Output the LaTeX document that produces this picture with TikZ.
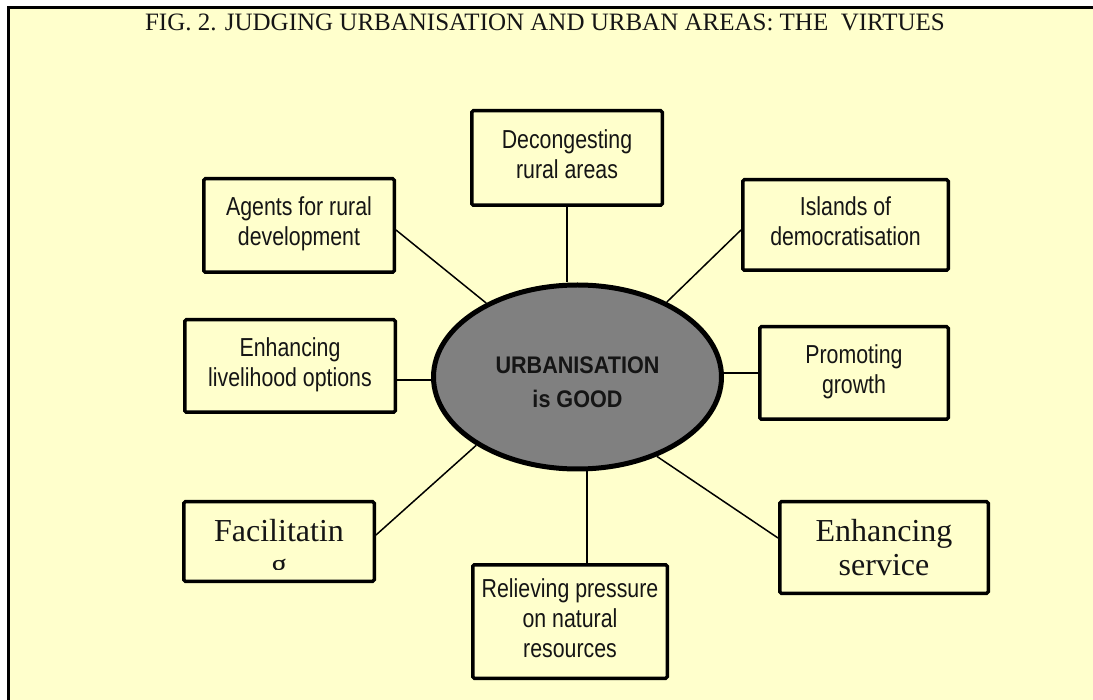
\documentclass[tikz,border=0pt]{standalone}
\usepackage{fontspec}
\setmainfont{Liberation Serif}
\newfontfamily\boxfont[FakeStretch=0.82]{Liberation Sans}
\newfontfamily\ellfont[FakeStretch=0.9]{Liberation Sans}
\newfontfamily\bigserif{Liberation Serif}
\usetikzlibrary{shapes.geometric,backgrounds}
\definecolor{bgyellow}{HTML}{FFFFCC}
\definecolor{ellgray}{HTML}{808080}
\definecolor{txt}{HTML}{151515}
\begin{document}
\begin{tikzpicture}[x=1pt,y=-1pt,
  boxbase/.style={draw, line width=3.5pt, rounded corners=1.5pt, fill=bgyellow,
    align=center, inner sep=0pt, text=txt},
  sbox/.style={boxbase, font=\boxfont\fontsize{26}{30}\selectfont,
    text height=48pt, text depth=7pt},
  sboxthree/.style={sbox, text height=78pt},
  serifbox/.style={boxbase, font=\bigserif\fontsize{32}{34}\selectfont},
  conn/.style={line width=1.5pt},
  centre/.style={ellipse, draw, line width=5pt, fill=ellgray, inner sep=0pt,
    minimum width=288pt, minimum height=184pt}
]
\useasboundingbox (0,0) rectangle (1093,700);

% title
\node[anchor=base, font=\fontsize{25}{28}\selectfont, text=txt] (title) at (545,30.5)
  {FIG. 2. JUDGING URBANISATION AND URBAN AREAS: THE~~VIRTUES};

% centre ellipse
\node[centre] (ell) at (577.5,377) {};
\node[align=center, inner sep=0pt, font=\ellfont\bfseries\fontsize{24}{34}\selectfont,
  text=txt, text height=51pt, text depth=0pt] (elltext) at (577.5,382.5)
  {URBANISATION\\is GOOD};

% boxes
\node[sbox, minimum width=190.5pt, minimum height=94.5pt] (decong) at (567,158)
  {Decongesting\\rural areas};
\node[sbox, minimum width=190.5pt, minimum height=93.5pt] (agents) at (299,225.5)
  {Agents for rural\\development};
\node[sbox, minimum width=205.5pt, minimum height=90.5pt] (islands) at (845.5,225)
  {Islands of\\democratisation};
\node[sbox, minimum width=188.5pt, minimum height=92.5pt] (promo) at (854,373)
  {Promoting\\growth};
\node[sbox, minimum width=210.5pt, minimum height=92.5pt] (liveli) at (290,366)
  {Enhancing\\livelihood options};
\node[sboxthree, minimum width=194.5pt, minimum height=113.5pt] (relieve) at (570,621.5)
  {Relieving pressure\\on natural\\resources};
\node[serifbox, minimum width=208.5pt, minimum height=91.5pt,
  text height=62pt, text depth=7pt] (service) at (884,547.5)
  {Enhancing\\service};
\node[serifbox, minimum width=190.5pt, minimum height=79.5pt] (facil) at (279,541.5) {};
\begin{scope}
  \clip (184,502) rectangle (374,569);
  \node[align=center, inner sep=0pt, font=\bigserif\fontsize{32}{34}\selectfont,
    text=txt, text height=68pt, text depth=0pt] (faciltext) at (279,541.5)
    {Facilitatin\\g};
\end{scope}

\begin{pgfonlayer}{background}
  \fill[white] (0,0) rectangle (1093,700);
  \fill[bgyellow] (7,6) rectangle (1093,700);
  \draw[line width=3pt] (8.5,700) -- (8.5,7.5) -- (1093,7.5);
  % connectors
  \draw[conn] (decong.south) -- (decong.south |- ell.north);
  \draw[conn] ([yshift=-4.5pt]agents.east) -- (ell.141.5);
  \draw[conn] ([yshift=-5pt]islands.west) -- (ell.40.8);
  \draw[conn] (promo.west) -- (promo.west -| ell.east);
  \draw[conn] ([yshift=-14pt]liveli.east) -- ([yshift=-14pt]liveli.east -| ell.west);
  \draw[conn] ([yshift=6.5pt]facil.east) -- (ell.214.6);
  \draw[conn] ([yshift=9.5pt]service.west) -- (ell.315.7);
  \draw[conn] ([xshift=17pt]relieve.north) -- ([xshift=17pt]relieve.north |- ell.south);
\end{pgfonlayer}
\end{tikzpicture}
\end{document}
